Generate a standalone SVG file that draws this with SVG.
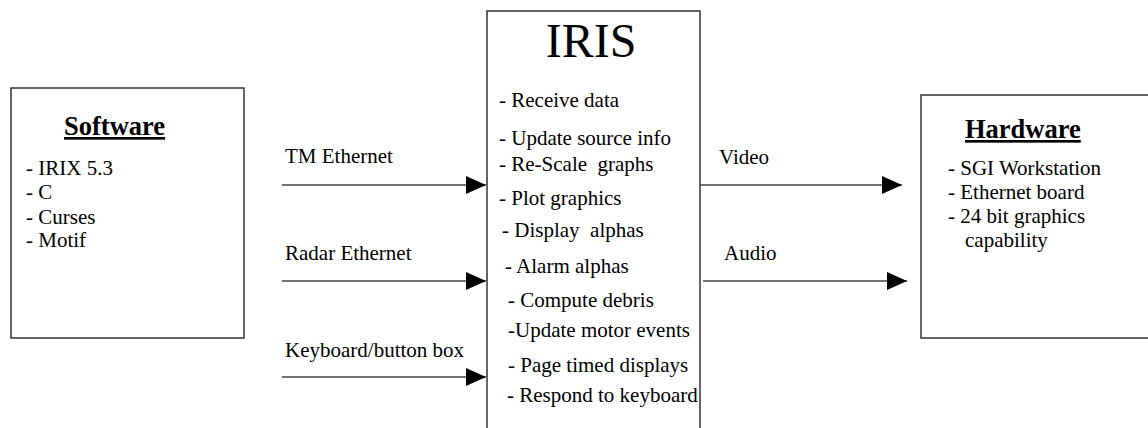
<svg xmlns="http://www.w3.org/2000/svg" width="1148" height="428" viewBox="0 0 1148 428" font-family="'Liberation Serif', 'Times New Roman', 'DejaVu Serif', serif">
<style>
text{font-family:'Liberation Serif','Times New Roman','DejaVu Serif',serif;fill:#000}
.box{fill:#fff;stroke:#333;stroke-width:1.5}
.t{font-size:21px}
.h{font-size:26.5px;font-weight:bold;text-decoration:underline}
.c{stroke:#444;stroke-width:1.5;fill:none}
.lbl{font-size:21px}
</style>
<defs>
<marker id="arr" markerUnits="userSpaceOnUse" markerWidth="20" markerHeight="18" refX="20" refY="9" orient="auto">
<path d="M0,0 L20,9 L0,18 Z" fill="#000"/>
</marker>
</defs>
<rect width="1148" height="428" fill="#fff"/>
<g id="software">
<rect class="box" x="11" y="88" width="233" height="250"/>
<text class="h" x="64" y="135">Software</text>
<text class="t" x="26" y="175">- IRIX 5.3</text>
<text class="t" x="26" y="199">- C</text>
<text class="t" x="26" y="224">- Curses</text>
<text class="t" x="26" y="247">- Motif</text>
</g>
<g id="iris">
<rect class="box" x="487" y="11" width="213" height="425"/>
<text x="591" y="57" font-size="48" text-anchor="middle">IRIS</text>
<text class="t" x="499" y="107">- Receive data</text>
<text class="t" x="499" y="145">- Update source info</text>
<text class="t" x="499" y="171" xml:space="preserve">- Re-Scale  graphs</text>
<text class="t" x="499" y="205">- Plot graphics</text>
<text class="t" x="502" y="237" xml:space="preserve">- Display  alphas</text>
<text class="t" x="505" y="273">- Alarm alphas</text>
<text class="t" x="508" y="307">- Compute debris</text>
<text class="t" x="508" y="337">-Update motor events</text>
<text class="t" x="508" y="372">- Page timed displays</text>
<text class="t" x="507" y="402">- Respond to keyboard</text>
</g>
<g id="hardware">
<rect class="box" x="921" y="95" width="240" height="243"/>
<text class="h" x="965" y="138">Hardware</text>
<text class="t" x="948" y="175">- SGI Workstation</text>
<text class="t" x="948" y="199">- Ethernet board</text>
<text class="t" x="948" y="223">- 24 bit graphics</text>
<text class="t" x="965" y="247">capability</text>
</g>
<g id="connectors">
<line class="c" x1="282" y1="185" x2="486" y2="185" marker-end="url(#arr)"/>
<text class="lbl" x="285" y="163">TM Ethernet</text>
<line class="c" x1="282" y1="281" x2="486" y2="281" marker-end="url(#arr)"/>
<text class="lbl" x="285" y="260">Radar Ethernet</text>
<line class="c" x1="282" y1="377" x2="486" y2="377" marker-end="url(#arr)"/>
<text class="lbl" x="285" y="357">Keyboard/button box</text>
<line class="c" x1="700" y1="185" x2="902" y2="185" marker-end="url(#arr)"/>
<text class="lbl" x="719" y="164">Video</text>
<line class="c" x1="703" y1="281" x2="907" y2="281" marker-end="url(#arr)"/>
<text class="lbl" x="724" y="260">Audio</text>
</g>
</svg>
